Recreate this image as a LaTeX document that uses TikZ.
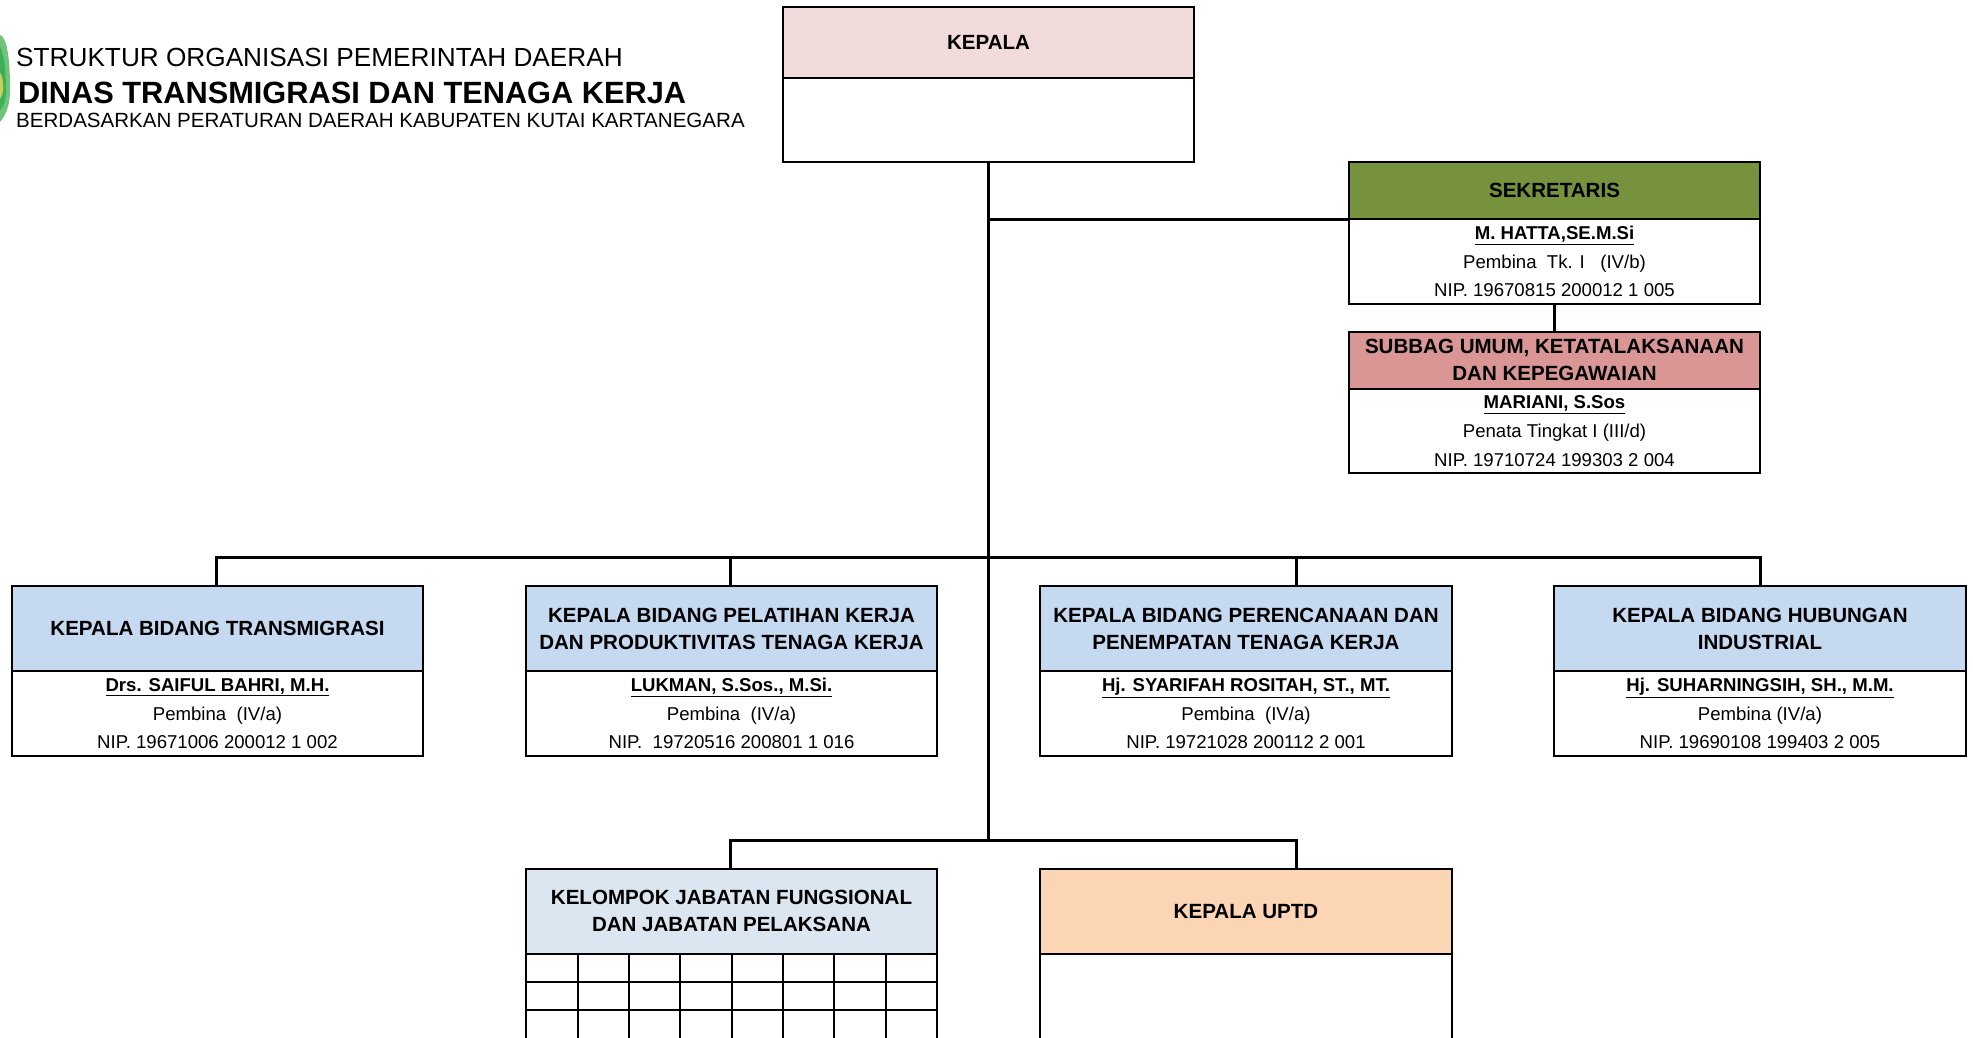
\documentclass[tikz,border=0pt]{standalone}
\usepackage{fontspec}
\setmainfont{Liberation Sans}
\definecolor{kepfill}{HTML}{F2DCDB}
\definecolor{sekfill}{HTML}{76923C}
\definecolor{subfill}{HTML}{D99694}
\definecolor{bidfill}{HTML}{C5D9F1}
\definecolor{kelfill}{HTML}{DCE6F1}
\definecolor{uptfill}{HTML}{FCD5B4}
\definecolor{logoA}{HTML}{6FC47A}
\definecolor{logoB}{HTML}{3FAF5A}
\definecolor{logoC}{HTML}{C9CF5A}
\tikzset{
  x=1pt,y=-1pt,
  box/.style={draw=black,line width=2pt,rectangle,inner sep=0pt,outer sep=0pt,align=center,anchor=north west,text=black},
  head/.style={box,font=\fontsize{20.55}{27}\selectfont\bfseries,minimum width=411pt},
  headA/.style={head,minimum height=85pt},
  headB/.style={head,minimum height=57pt},
  bodytxt/.style={box,font=\fontsize{18.6}{28.2}\selectfont,minimum width=411pt,minimum height=85pt},
  conn/.style={draw=black,line width=3pt,line cap=butt},
  titletext/.style={anchor=base west,inner sep=0pt,text=black}
}
\newcommand{\nmline}[1]{\raisebox{0.8pt}{\textbf{\underline{#1}}}}
\begin{document}
\begin{tikzpicture}
\path[use as bounding box] (0,0) rectangle (1973,1037);
\clip (0,0) rectangle (1973,1037);
\fill[white] (0,0) rectangle (1973,1037);
% logo at the edge
\fill[logoA] (-12,30) -- (2,36) .. controls (9,44) and (10,70) .. (10,90) .. controls (10,106) and (6,118) .. (-6,128) -- (-12,128) -- cycle;
\fill[logoB] (-12,42) -- (0,46) .. controls (5,56) and (6,76) .. (6,90) .. controls (6,102) and (3,110) .. (-8,118) -- (-12,118) -- cycle;
\fill[logoC] (-10,64) .. controls (2,68) and (4,82) .. (3,90) .. controls (2,98) and (0,102) .. (-10,106) -- cycle;
% titles
\node[titletext,font=\fontsize{26.2}{30}\selectfont] (t1) at (16,66.5) {STRUKTUR ORGANISASI PEMERINTAH DAERAH};
\node[titletext,font=\fontsize{30.75}{34}\selectfont\bfseries] (t2) at (18,103) {DINAS TRANSMIGRASI DAN TENAGA KERJA};
\node[titletext,font=\fontsize{20.55}{24}\selectfont] (t3) at (16,127) {BERDASARKAN PERATURAN DAERAH KABUPATEN KUTAI KARTANEGARA};
% kepala
\node[head,fill=kepfill,minimum height=71pt] (kephead) at (783,7) {KEPALA};
\node[box,minimum width=411pt,minimum height=84pt] (kepbody) at (783,78) {};
% sekretaris
\node[headB,fill=sekfill] (sekhead) at (1349,162) {SEKRETARIS};
\node[bodytxt] (sekbody) at (1349,219) {\nmline{M. HATTA,SE.M.Si}\\Pembina\ \ Tk. I\ \ \ (IV/b)\\NIP. 19670815 200012 1 005};
% subbag
\node[headB,fill=subfill] (subhead) at (1349,332) {\raisebox{1.5pt}{SUBBAG UMUM, KETATALAKSANAAN}\\\raisebox{1.5pt}{DAN KEPEGAWAIAN}};
\node[bodytxt,minimum height=84pt] (subbody) at (1349,389) {\nmline{MARIANI, S.Sos}\\Penata Tingkat I (III/d)\\NIP. 19710724 199303 2 004};
% bidang
\node[headA,fill=bidfill] (b1head) at (12,586) {KEPALA BIDANG TRANSMIGRASI};
\node[bodytxt] (b1body) at (12,671) {\nmline{Drs. SAIFUL BAHRI, M.H.}\\Pembina\ \ (IV/a)\\NIP. 19671006 200012 1 002};
\node[headA,fill=bidfill] (b2head) at (526,586) {KEPALA BIDANG PELATIHAN KERJA\\DAN PRODUKTIVITAS TENAGA KERJA};
\node[bodytxt] (b2body) at (526,671) {\nmline{LUKMAN, S.Sos., M.Si.}\\Pembina\ \ (IV/a)\\NIP.\ \ 19720516 200801 1 016};
\node[headA,fill=bidfill,minimum width=412pt] (b3head) at (1040,586) {KEPALA BIDANG PERENCANAAN DAN\\PENEMPATAN TENAGA KERJA};
\node[bodytxt,minimum width=412pt] (b3body) at (1040,671) {\nmline{Hj. SYARIFAH ROSITAH, ST., MT.}\\Pembina\ \ (IV/a)\\NIP. 19721028 200112 2 001};
\node[headA,fill=bidfill,minimum width=412pt] (b4head) at (1554,586) {KEPALA BIDANG HUBUNGAN\\INDUSTRIAL};
\node[bodytxt,minimum width=412pt] (b4body) at (1554,671) {\nmline{Hj. SUHARNINGSIH, SH., M.M.}\\Pembina (IV/a)\\NIP. 19690108 199403 2 005};
% bottom row
\node[headA,fill=kelfill] (kelhead) at (526,869) {\raisebox{1.5pt}{KELOMPOK JABATAN FUNGSIONAL}\\\raisebox{1.5pt}{DAN JABATAN PELAKSANA}};
\node[headA,fill=uptfill,minimum width=412pt] (upthead) at (1040,869) {KEPALA UPTD};
\draw[line width=2pt] (1040,954) -- (1040,1040) (1452,954) -- (1452,1040);
\draw[line width=2pt] (526,954) -- (526,1040) (937,954) -- (937,1040)
  (526,982) -- (937,982) (526,1010) -- (937,1010)
  (577.5,954) -- (577.5,1040) (629,954) -- (629,1040) (680,954) -- (680,1040) (732,954) -- (732,1040)
  (782.5,954) -- (782.5,1040) (834,954) -- (834,1040) (885.5,954) -- (885.5,1040);
% junctions
\coordinate (bus) at (988.5,557);
\coordinate (botbus) at (988.5,840.5);
\coordinate (b3drop) at (1296,586);
\coordinate (uptdrop) at (1296,869);
% connectors
\draw[conn] (kepbody.south) -- (botbus);
\draw[conn] (kepbody.south |- sekhead.south west) -- (sekhead.south west);
\draw[conn] (sekbody.south) -- (subhead.north);
\draw[conn] ([xshift=-1pt]b1head.north) |- (bus);
\draw[conn] ([xshift=-1pt]b2head.north) |- (bus);
\draw[conn] (b3drop) |- (bus);
\draw[conn] (b4head.north) |- (bus);
\draw[conn] ([xshift=-1pt]kelhead.north) |- (botbus);
\draw[conn] (uptdrop) |- (botbus);
\end{tikzpicture}
\end{document}
